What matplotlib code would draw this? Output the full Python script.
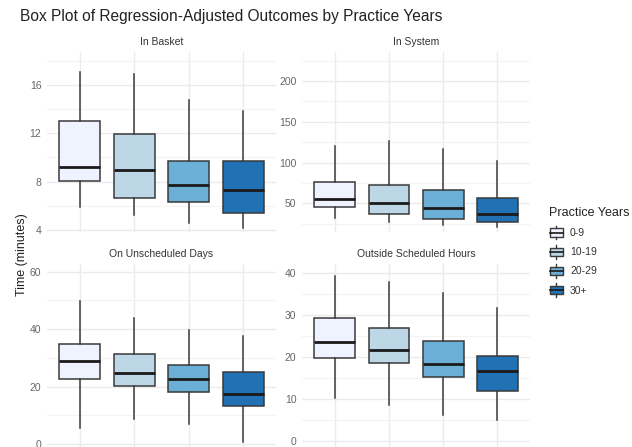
import matplotlib
matplotlib.use("Agg")
import matplotlib.pyplot as plt
from matplotlib.legend_handler import HandlerBase
from matplotlib.patches import Rectangle
from matplotlib.lines import Line2D

plt.rcParams['font.family'] = ['Liberation Sans', 'DejaVu Sans']

groups = ["0-9", "10-19", "20-29", "30+"]
colors = ["#EFF3FF", "#BDD7E7", "#6BAED6", "#2171B5"]
facets = ["In Basket", "In System", "On Unscheduled Days", "Outside Scheduled Hours"]

basket_low = [5.9, 5.2, 4.6, 4.15]
basket_q1 = [8.05, 6.65, 6.28, 5.4]
basket_med = [9.18, 8.93, 7.71, 7.3]
basket_q3 = [13.04, 11.97, 9.68, 9.73]
basket_high = [17.1, 16.9, 14.76, 13.87]

system_low = [31.7, 26.8, 23.5, 20.7]
system_q1 = [45.5, 37.0, 31.0, 26.8]
system_med = [55.0, 51.0, 44.8, 36.5]
system_q3 = [76.0, 72.5, 66.4, 57.0]
system_high = [120.0, 126.5, 116.3, 101.6]

unsched_low = [5.7, 8.8, 7.1, 0.8]
unsched_q1 = [22.8, 20.3, 18.1, 13.2]
unsched_med = [29.0, 24.8, 22.7, 17.6]
unsched_q3 = [35.0, 31.4, 27.7, 25.2]
unsched_high = [49.8, 43.8, 39.9, 37.8]

outside_low = [10.3, 8.6, 6.2, 5.0]
outside_q1 = [19.9, 18.7, 15.2, 12.0]
outside_med = [23.7, 21.7, 18.4, 16.6]
outside_q3 = [29.4, 27.0, 23.8, 20.3]
outside_high = [39.4, 38.0, 35.4, 31.6]

facet_data = [
    (basket_low, basket_q1, basket_med, basket_q3, basket_high),
    (system_low, system_q1, system_med, system_q3, system_high),
    (unsched_low, unsched_q1, unsched_med, unsched_q3, unsched_high),
    (outside_low, outside_q1, outside_med, outside_q3, outside_high),
]
ylims = [(3.82, 18.73), (14.9, 235.5), (-1.0, 62.7), (-1.4, 42.2)]
major_ticks = [[4, 8, 12, 16], [50, 100, 150, 200], [0, 20, 40, 60], [0, 10, 20, 30, 40]]
minor_ticks = [[6, 10, 14, 18], [25, 75, 125, 175, 225], [10, 30, 50], [5, 15, 25, 35]]

W, H = 632, 447
fig = plt.figure(figsize=(W / 100, H / 100), dpi=100)

# panel boxes in pixels: (left, top, right, bottom)
panel_px = [(47, 52, 276, 232), (302, 52, 530, 232), (47, 264, 276, 447), (302, 264, 530, 447)]

edge = "#3a3a3a"
grid_c = "#EBEBEB"
for i, (l, t, r, b) in enumerate(panel_px):
    ax = fig.add_axes([l / W, 1 - b / H, (r - l) / W, (b - t) / H])
    low, q1, med, q3, high = facet_data[i]
    stats = []
    for k in range(len(groups)):
        stats.append(dict(whislo=low[k], q1=q1[k], med=med[k], q3=q3[k], whishi=high[k], fliers=[]))
    bp = ax.bxp(stats, positions=range(1, len(groups) + 1), widths=0.75, patch_artist=True,
                showcaps=False, showfliers=False,
                boxprops=dict(edgecolor=edge, linewidth=1.1),
                medianprops=dict(color="#1a1a1a", linewidth=2.0, solid_capstyle="butt"),
                whiskerprops=dict(color=edge, linewidth=1.1))
    for patch, c in zip(bp['boxes'], colors):
        patch.set_facecolor(c)
    ax.set_xlim(0.4, 4.6)
    ax.set_ylim(*ylims[i])
    ax.set_yticks(major_ticks[i])
    ax.set_yticks(minor_ticks[i], minor=True)
    ax.set_xticks(range(1, len(groups) + 1))
    ax.set_xticklabels([])
    ax.grid(True, which='major', color=grid_c, linewidth=1.0)
    ax.grid(True, which='minor', axis='y', color="#F3F3F3", linewidth=0.8)
    ax.set_axisbelow(True)
    for s in ax.spines.values():
        s.set_visible(False)
    ax.tick_params(which='both', length=0, labelsize=7.5, labelcolor="#666666", pad=4)
    ax.set_title(facets[i], fontsize=7.5, color="#333333", pad=5)

fig.text(20 / W, 1 - 17 / H, "Box Plot of Regression-Adjusted Outcomes by Practice Years",
         fontsize=11.2, color="#222222", ha='left', va='center')
fig.text(22 / W, 1 - 255 / H, "Time (minutes)", rotation=90, fontsize=9, color="#222222",
         ha='center', va='center')


class BoxHandler(HandlerBase):
    def create_artists(self, legend, orig_handle, xdescent, ydescent, width, height, fontsize, trans):
        fc = orig_handle.get_facecolor()
        x0 = -xdescent
        y0 = -ydescent
        bw = width * 0.9
        bx = x0 + (width - bw) / 2
        rect = Rectangle((bx, y0 + height * 0.12), bw, height * 0.76, facecolor=fc,
                         edgecolor=edge, linewidth=1.0, transform=trans)
        cx = x0 + width / 2
        med = Line2D([bx, bx + bw], [y0 + height / 2] * 2, color="#1a1a1a", linewidth=1.2, transform=trans)
        w1 = Line2D([cx, cx], [y0 - height * 0.1, y0 + height * 0.12], color=edge, linewidth=1.0, transform=trans)
        w2 = Line2D([cx, cx], [y0 + height * 0.88, y0 + height * 1.1], color=edge, linewidth=1.0, transform=trans)
        return [rect, med, w1, w2]


handles = [Rectangle((0, 0), 1, 1, facecolor=c) for c in colors]
leg = fig.legend(handles, groups, loc='upper left', bbox_to_anchor=(545 / W, 1 - 203 / H),
                 frameon=False, title="Practice Years", fontsize=7.5, title_fontsize=9,
                 handler_map={Rectangle: BoxHandler()}, handlelength=1.4, handleheight=1.3,
                 handletextpad=0.6, labelspacing=0.75, borderaxespad=0)
leg._legend_box.align = "left"
for t in leg.get_texts():
    t.set_color("#333333")
leg.get_title().set_color("#222222")

fig.savefig("out.png", dpi=100)
